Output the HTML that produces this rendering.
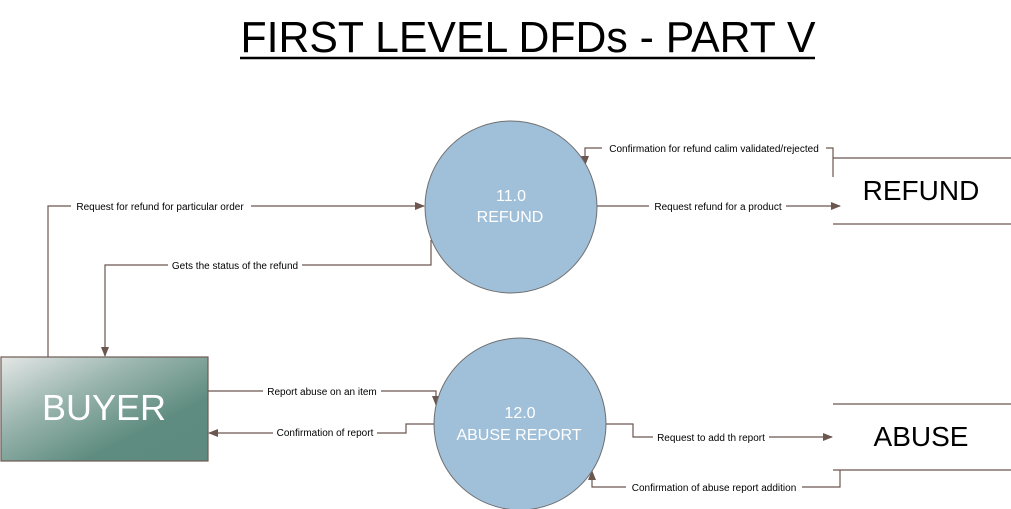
<!DOCTYPE html>
<html><head><meta charset="utf-8"><style>
html,body{margin:0;padding:0;background:#fff;}
svg{display:block;font-family:"Liberation Sans",sans-serif;}
</style></head><body>
<svg width="1011" height="509" viewBox="0 0 1011 509" xmlns="http://www.w3.org/2000/svg">
<defs>
<linearGradient id="g" x1="0" y1="0" x2="1" y2="1" gradientUnits="objectBoundingBox">
<stop offset="0" stop-color="#e4e7e6"/><stop offset="0.35" stop-color="#9ab5ae"/><stop offset="0.7" stop-color="#5f8c80"/><stop offset="1" stop-color="#5e8a7f"/>
</linearGradient>
<marker id="a" markerWidth="10" markerHeight="8" refX="9" refY="4" orient="auto" markerUnits="userSpaceOnUse">
<path d="M0,0 L10,4 L0,8 z" fill="#6b5650"/></marker>
</defs>
<text x="528" y="52" font-size="44" text-anchor="middle" textLength="575" lengthAdjust="spacingAndGlyphs" fill="#000">FIRST LEVEL DFDs - PART V</text>
<line x1="240" y1="58" x2="815" y2="58" stroke="#000" stroke-width="2.5"/>

<g fill="none" stroke="#6b5650" stroke-width="1.2">
<polyline points="48,357 48,206 424,206" marker-end="url(#a)"/>
<polyline points="431,240 431,265 105,265 105,356" marker-end="url(#a)"/>
<polyline points="833,177 833,148 585,148 585,165" marker-end="url(#a)"/>
<polyline points="597,206 840,206" marker-end="url(#a)"/>
<polyline points="208,391 436,391 436,405" marker-end="url(#a)"/>
<polyline points="434,424 406,424 406,433 209,433" marker-end="url(#a)"/>
<polyline points="605,424 633,424 633,437 832,437" marker-end="url(#a)"/>
<polyline points="840,470 840,487 592,487 592,471" marker-end="url(#a)"/>
<line x1="833" y1="158" x2="1011" y2="158"/><line x1="833" y1="224" x2="1011" y2="224"/>
<line x1="833" y1="404" x2="1011" y2="404"/><line x1="833" y1="470" x2="1011" y2="470"/>
</g>

<circle cx="511" cy="207" r="86" fill="#a0bfd8" stroke="#6f6f6f" stroke-width="1"/>
<circle cx="520" cy="424" r="86" fill="#a0bfd8" stroke="#6f6f6f" stroke-width="1"/>
<rect x="1" y="357" width="207" height="104" fill="url(#g)" stroke="#6f5a55" stroke-width="1.2"/>

<g fill="#fff" text-anchor="middle">
<text x="511" y="201" font-size="16">11.0</text>
<text x="510" y="222" font-size="16">REFUND</text>
<text x="520" y="418" font-size="16">12.0</text>
<text x="519" y="440" font-size="16">ABUSE REPORT</text>
<text x="104" y="420" font-size="36">BUYER</text>
</g>
<g fill="#000" text-anchor="middle">
<text x="921" y="200" font-size="28">REFUND</text>
<text x="921" y="446" font-size="28">ABUSE</text>
</g>

<g font-size="10" text-anchor="middle" fill="#000">
<rect x="71" y="199" width="180" height="13" fill="#fff"/><text x="160" y="210">Request for refund for particular order</text>
<rect x="168" y="258" width="134" height="13" fill="#fff"/><text x="235" y="269">Gets the status of the refund</text>
<rect x="602" y="141" width="224" height="13" fill="#fff"/><text x="714" y="152">Confirmation for refund calim validated/rejected</text>
<rect x="649" y="199" width="137" height="13" fill="#fff"/><text x="718" y="210">Request refund for a product</text>
<rect x="263" y="384" width="118" height="13" fill="#fff"/><text x="322" y="395">Report abuse on an item</text>
<rect x="273" y="426" width="104" height="13" fill="#fff"/><text x="325" y="436">Confirmation of report</text>
<rect x="653" y="430" width="116" height="13" fill="#fff"/><text x="711" y="441">Request to add th report</text>
<rect x="626" y="480" width="176" height="13" fill="#fff"/><text x="714" y="491">Confirmation of abuse report addition</text>
</g>
</svg>
</body></html>
